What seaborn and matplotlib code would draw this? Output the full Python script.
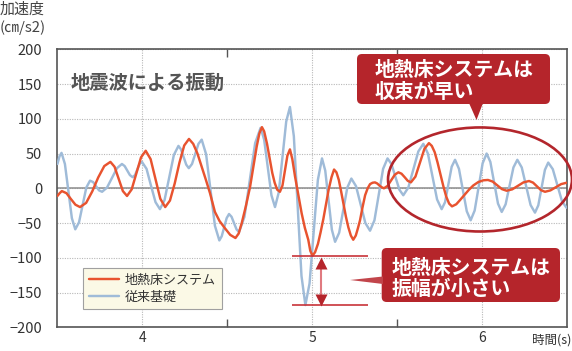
import numpy as np
import pandas as pd
import seaborn as sns
import matplotlib.pyplot as plt
from matplotlib.patches import FancyBboxPatch, Ellipse, Polygon

# 地熱床システム (s, cm/s2)
t_geo = [3.500, 3.513, 3.526, 3.553, 3.5795, 3.606, 3.633, 3.669, 3.705, 3.740,
         3.776, 3.812, 3.8365, 3.861, 3.8855, 3.910, 3.9375, 3.965, 3.9925, 4.020,
         4.049, 4.0775, 4.106, 4.135, 4.163, 4.191, 4.219, 4.247, 4.275, 4.300,
         4.325, 4.350, 4.375, 4.399, 4.428, 4.455, 4.487, 4.518, 4.549, 4.568,
         4.586, 4.610, 4.635, 4.655, 4.674, 4.690, 4.705, 4.718, 4.735, 4.752,
         4.766, 4.780, 4.795, 4.811, 4.826, 4.8405, 4.855, 4.870, 4.884, 4.900,
         4.920, 4.939, 4.958, 4.978, 4.990, 5.003, 5.018, 5.035, 5.050, 5.067,
         5.082, 5.098, 5.115, 5.130, 5.144, 5.158, 5.172, 5.186, 5.200, 5.214,
         5.229, 5.243, 5.258, 5.270, 5.283, 5.298, 5.313, 5.328, 5.342, 5.357,
         5.371, 5.384, 5.3975, 5.411, 5.424, 5.445, 5.4665, 5.488, 5.509, 5.5275,
         5.546, 5.5645, 5.583, 5.6095, 5.636, 5.6625, 5.689, 5.706, 5.723, 5.740,
         5.757, 5.774, 5.791, 5.808, 5.825, 5.850, 5.872, 5.900, 5.925, 5.950,
         5.980, 6.010, 6.037, 6.0645, 6.092, 6.1195, 6.147, 6.180, 6.213, 6.246,
         6.279, 6.3025, 6.326, 6.3495, 6.373, 6.405, 6.437, 6.468, 6.500]
a_geo = [-11, -7, -4, -7, -15.5, -23.6, -27, -21, -4.5, 15.5,
         32, 38, 31, 13.5, -4, -11, -1.5, 21.5, 44.5, 54,
         42, 13.5, -15, -27, -17.6, 7, 37, 61.6, 71, 64,
         50, 31, 12, -7, -34, -47, -57.5, -67, -71.5, -65,
         -50, -26, 2, 32, 60, 79, 88, 82, 64, 41,
         22, 8, -2, -5, 4, 25.5, 47, 56, 42, 17,
         -10, -36, -57, -74, -90, -97, -92, -80, -64, -44,
         -24, -2, 16, 27, 23, 12, -5, -23, -41, -56,
         -68, -74, -68, -58, -46, -27, -10, 0, 6, 8,
         8.5, 7, 4, 1.5, 0, 3.4, 11.5, 19.6, 23, 21,
         16, 10.7, 8.6, 16.8, 37, 56.8, 65, 61, 52, 37,
         20, 3, -12, -22, -26, -23, -17, -9, -2, 4,
         9, 11.5, 12, 9.7, 4.2, -1.2, -3.5, -1.5, 3.5, 8.5,
         10.5, 8.2, 2.8, -2.7, -5, -3, 1.5, 6, 8]

# 従来基礎 (s, cm/s2)
t_conv = [3.500, 3.512, 3.524, 3.544, 3.5645, 3.585, 3.605, 3.627, 3.6485, 3.670,
          3.692, 3.710, 3.7275, 3.745, 3.763, 3.792, 3.8215, 3.851, 3.880, 3.896,
          3.9115, 3.927, 3.943, 3.957, 3.9705, 3.984, 3.998, 4.025, 4.051, 4.078,
          4.104, 4.131, 4.1585, 4.186, 4.213, 4.228, 4.2435, 4.259, 4.274, 4.293,
          4.312, 4.331, 4.350, 4.376, 4.402, 4.428, 4.454, 4.468, 4.4825, 4.497,
          4.511, 4.526, 4.5405, 4.555, 4.570, 4.602, 4.6335, 4.665, 4.697, 4.718,
          4.7395, 4.761, 4.782, 4.804, 4.826, 4.848, 4.870, 4.893, 4.9155, 4.938,
          4.961, 4.9855, 5.010, 5.0345, 5.059, 5.078, 5.0975, 5.117, 5.136, 5.160,
          5.184, 5.208, 5.232, 5.2595, 5.287, 5.3145, 5.342, 5.368, 5.3935, 5.419,
          5.445, 5.468, 5.4915, 5.515, 5.538, 5.5675, 5.597, 5.6265, 5.656, 5.683,
          5.710, 5.737, 5.764, 5.784, 5.8035, 5.823, 5.843, 5.866, 5.889, 5.912,
          5.935, 5.9585, 5.982, 6.0055, 6.029, 6.051, 6.0735, 6.096, 6.118, 6.141,
          6.164, 6.187, 6.210, 6.236, 6.262, 6.288, 6.314, 6.3335, 6.353, 6.3725,
          6.392, 6.419, 6.446, 6.473, 6.500]
a_conv = [35, 46, 51, 35, -4, -43, -59, -49, -24, 1,
          11, 9, 3, -3, -5, 1, 15, 29, 35, 32,
          25.5, 19, 16, 19, 27, 35, 38, 28, 4, -20,
          -30, -17, 15.5, 48, 61, 56, 45, 34, 29, 35,
          49.5, 64, 70, 49, -2.5, -54, -75, -69, -56, -43,
          -37, -41, -50, -59, -63, -41, 12, 65, 87, 70,
          30, -10, -27, -6, 45, 96, 117, 75, -25.5, -126,
          -168, -137, -62.5, 12, 43, 25.5, -17, -59.5, -77, -64,
          -31.5, 1, 14, 3, -23.5, -50, -61, -46, -9, 28,
          43, 35, 16.5, -2, -10, 1, 27, 53, 64, 50,
          17, -16, -30, -20, 5.5, 31, 41, 28, -2.5, -33,
          -46, -32, 2, 36, 50, 38, 8, -22, -34, -23,
          3.5, 30, 41, 30, 3, -24, -35, -24.5, 1, 26.5,
          37, 27.5, 4.5, -18.5, -28]

x_ticks = [4, 5, 6]
y_ticks = [-200, -150, -100, -50, 0, 50, 100, 150, 200]

orange = "#e8532f"
blue = "#9fbbd8"
red = "#b5252b"

sns.set_style("white")
plt.rcParams['font.family'] = ['Noto Sans CJK JP', 'DejaVu Sans']

fig = plt.figure(figsize=(5.72, 3.51), dpi=100)
ax = fig.add_axes([57.45 / 572, 23.7 / 351, 509.1 / 572, 278 / 351])
inch = fig.dpi_scale_trans


def px(x, y):
    # pixel position from top-left -> inches
    return (x / 100, (351 - y) / 100)


sns.lineplot(x=t_conv, y=a_conv, ax=ax, color=blue, lw=1.75, label="従来基礎", zorder=3)
sns.lineplot(x=t_geo, y=a_geo, ax=ax, color=orange, lw=1.75, label="地熱床システム", zorder=4)

ax.set_xlim(3.5, 6.5)
ax.set_ylim(-200, 200)
ax.set_xticks(x_ticks)
ax.set_yticks(y_ticks)
ax.set_xticks([4.5, 5.5], minor=True)
ax.grid(True, which='major', color='#b8b8b8', ls=(0, (1, 1.2)), lw=0.8)
ax.set_axisbelow(True)
ax.axhline(0, color='#8c8c8c', lw=1.1, zorder=2)
ax.set_xlabel("")
ax.set_ylabel("")
for s in ax.spines.values():
    s.set_color('#555555')
    s.set_linewidth(1.2)
ax.tick_params(axis='y', which='major', length=0, pad=11, labelsize=10.5, labelcolor='#333333')
ax.tick_params(axis='x', which='major', length=0, pad=3, labelsize=10, labelcolor='#333333')
ax.tick_params(axis='x', which='minor', direction='in', length=6, width=1,
               color='#555555', top=True, bottom=True)

h, l = ax.get_legend_handles_labels()
leg = ax.legend([h[1], h[0]], [l[1], l[0]], loc='lower left',
                bbox_to_anchor=px(83.3, 309.3), bbox_transform=inch,
                borderaxespad=0, frameon=True, fancybox=False,
                facecolor='#fbf9e6', edgecolor='#a0a0a0', framealpha=1,
                fontsize=9.4, handlelength=2.3, handletextpad=0.45,
                borderpad=0.45, labelspacing=0.3)
leg.get_frame().set_linewidth(0.8)
for txt in leg.get_texts():
    txt.set_color('#333333')

# 振幅の差
g_min = min(a_geo)
c_min = min(a_conv)
ax.hlines([g_min, c_min], 4.883, 5.331, color='#c8333a', lw=1.2, zorder=5)
ax.plot([5.051, 5.051], [g_min - 10, c_min + 10], color='#e07a80', lw=1.5, zorder=5)
ax.plot([5.051], [g_min - 11], marker='^', ms=9, color=red, mec='none', zorder=6)
ax.plot([5.051], [c_min + 8], marker='v', ms=9, color=red, mec='none', zorder=6)

ax.add_patch(Ellipse((5.99, 12.7), 1.084, 149.7, fill=False, ec='#b3262c',
                     lw=1.9, clip_on=False, zorder=6))

# callouts
box1 = FancyBboxPatch(px(357, 104), 1.93, 0.50, boxstyle='round,pad=0,rounding_size=0.05',
                      transform=inch, fc=red, ec='none', zorder=7)
fig.patches.append(box1)
fig.patches.append(Polygon([px(469, 103), px(483, 103), px(476.5, 120)], closed=True,
                           transform=inch, fc=red, ec='none', zorder=7))
box2 = FancyBboxPatch(px(381.7, 302), 1.783, 0.54, boxstyle='round,pad=0,rounding_size=0.05',
                      transform=inch, fc=red, ec='none', zorder=7)
fig.patches.append(box2)
fig.patches.append(Polygon([px(350, 280), px(383, 276.5), px(383, 284)], closed=True,
                           transform=inch, fc='#c2454b', ec='none', zorder=7))

bt = dict(color='white', fontsize=14.3, fontweight='bold', ha='left', va='center',
          transform=inch, zorder=8)
fig.text(*px(375, 70), "地熱床システムは", **bt)
fig.text(*px(375, 92), "収束が早い", **bt)
fig.text(*px(391.7, 267), "地熱床システムは", **bt)
fig.text(*px(391.7, 288.5), "振幅が小さい", **bt)

fig.text(*px(70.7, 83), "地震波による振動", transform=inch, fontsize=13.9,
         fontweight='bold', color='#555555', ha='left', va='center')
fig.text(*px(0, 10), "加速度", transform=inch, fontsize=10.8, color='#444444',
         ha='left', va='center')
fig.text(*px(0, 28), "(㎝/s2)", transform=inch, fontsize=10.8, color='#444444',
         ha='left', va='center')
fig.text(*px(571, 340), "時間(s)", transform=inch, fontsize=9, color='#333333',
         ha='right', va='center')

fig.savefig("out.png", dpi=100)
